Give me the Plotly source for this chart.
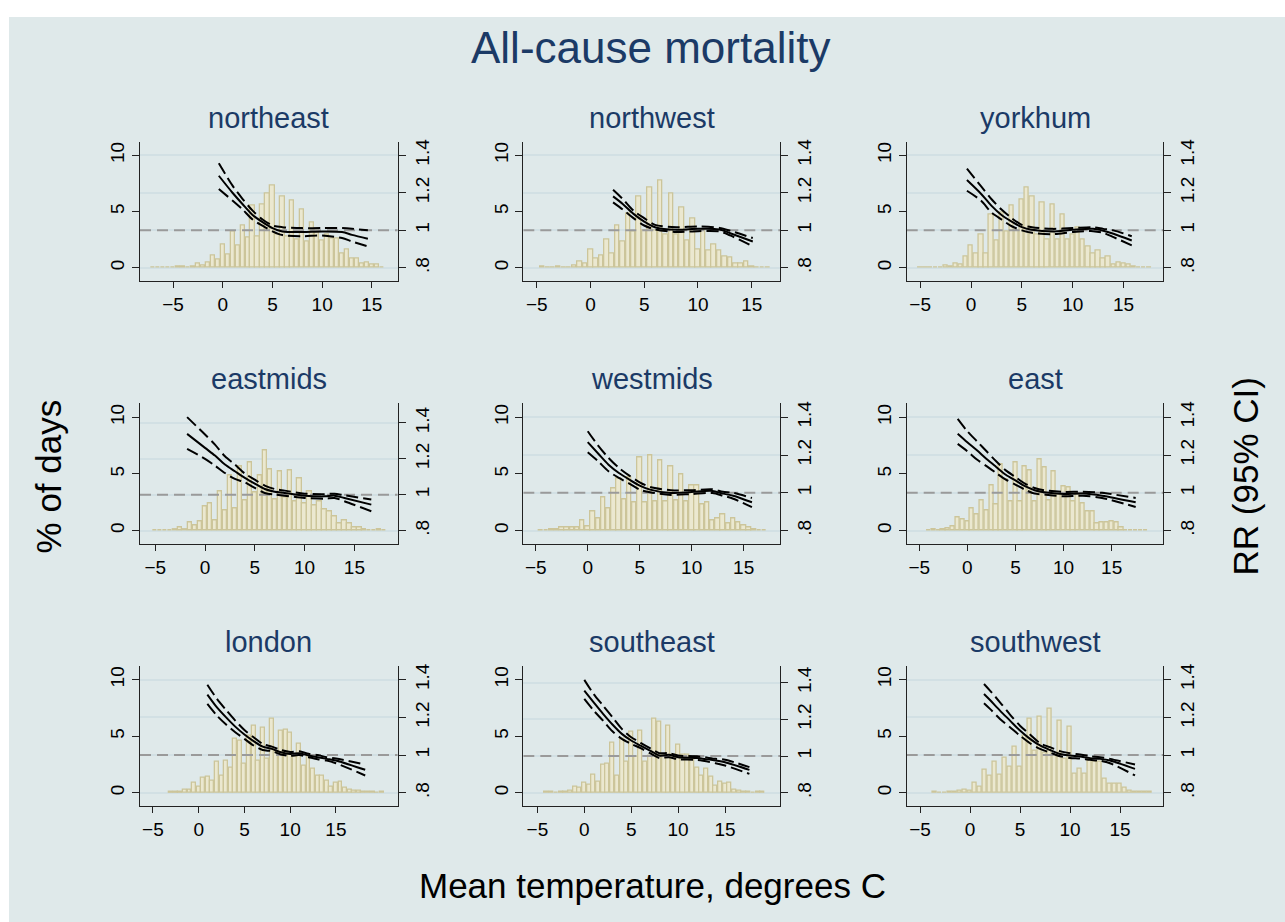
import plotly.graph_objects as go

W, H = 1285, 922

regions = ["northeast", "northwest", "yorkhum", "eastmids", "westmids",
           "east", "london", "southeast", "southwest"]

# ---------------- histogram data: % of days, 0.5 degC bins ----------------
bin_width = 0.5
bin_first = {"northeast": -7.0, "northwest": -4.5, "yorkhum": -5.0,
             "eastmids": -5.0, "westmids": -4.5, "east": -4.0,
             "london": -3.0, "southeast": -4.0, "southwest": -3.5}

pct_northeast = [0.05, 0.05, 0.05, 0.05, 0.05, 0.12, 0.12, 0.05, 0.1, 0.4, 0.2, 0.5,
                 1.1, 0.7, 2.1, 1.2, 3.2, 2.0, 3.8, 2.7, 5.5, 2.8, 5.6, 6.6, 7.3, 3.0,
                 6.3, 2.8, 6.0, 2.5, 5.2, 2.3, 4.0, 3.5, 2.4, 3.0, 2.6, 2.6, 1.3, 1.6,
                 0.8, 0.8, 0.4, 0.5, 0.3, 0.3, 0.05]
pct_northwest = [0.1, 0.0, 0.0, 0.1, 0.05, 0.05, 0.2, 0.6, 0.4, 1.6, 0.8, 1.1, 2.5,
                 1.3, 3.8, 2.3, 4.8, 3.2, 6.3, 3.3, 7.1, 3.3, 7.8, 3.0, 6.6, 3.0, 5.4,
                 2.4, 4.4, 1.6, 3.3, 1.5, 2.1, 1.5, 1.0, 0.9, 0.4, 0.4, 0.6, 0.15, 0.05,
                 0.0, 0.05]
pct_yorkhum = [0.02, 0.02, 0.02, 0.05, 0.05, 0.2, 0.15, 0.35, 0.3, 1.0, 2.0, 1.3, 3.0,
               1.3, 4.7, 2.4, 4.9, 3.2, 5.5, 3.3, 6.1, 7.1, 6.3, 3.0, 5.8, 2.5, 5.6,
               2.5, 4.7, 2.5, 3.0, 3.6, 2.5, 1.9, 1.3, 1.5, 0.8, 1.0, 0.3, 0.5, 0.4,
               0.3, 0.1, 0.05, 0.02, 0.02]
pct_eastmids = [0.05, 0.05, 0.02, 0.05, 0.1, 0.3, 0.15, 0.7, 0.5, 0.8, 2.1, 2.4, 0.9,
                3.5, 1.8, 4.9, 2.0, 5.7, 2.7, 6.0, 3.4, 4.9, 7.1, 5.4, 2.8, 5.2, 2.9,
                5.3, 2.6, 4.6, 2.4, 3.5, 2.2, 2.6, 1.9, 1.7, 1.3, 0.6, 0.9, 0.6, 0.3,
                0.25, 0.1, 0.05, 0.05, 0.1, 0.05]
pct_westmids = [0.05, 0.05, 0.15, 0.15, 0.25, 0.3, 0.3, 0.3, 0.9, 0.4, 1.7, 1.1, 2.9,
                2.0, 3.7, 4.6, 2.8, 4.7, 2.5, 6.5, 2.5, 6.6, 2.6, 6.2, 2.6, 5.7, 2.7,
                5.0, 2.6, 4.0, 4.0, 2.3, 2.5, 0.9, 1.1, 1.4, 0.6, 1.1, 0.7, 0.5, 0.3,
                0.15, 0.05, 0.05]
pct_east = [0.05, 0.1, 0.05, 0.1, 0.2, 0.4, 1.2, 1.0, 0.8, 2.0, 1.4, 2.7, 1.8, 4.0,
            2.3, 5.8, 4.5, 2.6, 6.0, 2.6, 5.7, 5.3, 2.6, 6.3, 5.6, 2.7, 5.2, 3.2, 3.9,
            3.8, 2.6, 3.3, 2.4, 1.7, 1.7, 0.6, 0.7, 0.75, 0.8, 0.7, 0.3, 0.0, 0.05,
            0.05, 0.05, 0.05]
pct_london = [0.1, 0.1, 0.1, 0.3, 0.25, 0.9, 0.5, 1.3, 1.4, 1.1, 2.7, 1.5, 2.8, 2.2,
              4.8, 4.6, 2.6, 5.0, 5.9, 2.8, 5.7, 3.0, 6.5, 3.6, 5.5, 5.6, 5.3, 3.2,
              4.3, 2.4, 3.3, 2.1, 1.5, 1.5, 1.1, 0.5, 0.9, 1.0, 0.4, 0.3, 0.2, 0.2,
              0.1, 0.05, 0.05, 0.0, 0.05]
pct_southeast = [0.05, 0.05, 0.0, 0.1, 0.1, 0.2, 0.5, 0.4, 0.9, 0.7, 1.6, 1.0, 2.5,
                 2.6, 4.4, 1.5, 4.8, 2.7, 5.4, 3.2, 5.5, 2.7, 3.3, 6.5, 6.3, 3.3, 5.9,
                 3.4, 4.2, 3.4, 3.4, 3.0, 2.2, 1.5, 2.1, 1.4, 0.6, 1.0, 0.8, 0.9, 0.3,
                 0.2, 0.1, 0.05, 0.0, 0.05, 0.05]
pct_southwest = [0.12, 0.0, 0.0, 0.05, 0.1, 0.15, 0.3, 0.2, 0.9, 0.5, 2.0, 1.5, 2.7,
                 1.6, 3.1, 2.3, 4.1, 2.3, 5.0, 6.5, 3.7, 6.7, 3.5, 7.4, 3.3, 6.4, 3.0,
                 5.8, 1.7, 2.1, 1.7, 3.0, 2.7, 2.7, 1.2, 0.8, 0.8, 0.8, 0.4, 0.2, 0.05,
                 0.05, 0.05, 0.05]

hist_pct = {"northeast": pct_northeast, "northwest": pct_northwest,
            "yorkhum": pct_yorkhum, "eastmids": pct_eastmids,
            "westmids": pct_westmids, "east": pct_east, "london": pct_london,
            "southeast": pct_southeast, "southwest": pct_southwest}

# ---------------- relative risk curves (RR and 95% CI) ----------------
temp_northeast = [-0.4, 1, 2, 3, 4, 5, 6, 8, 10, 12, 13, 14.6]
rr_northeast = [1.291, 1.199, 1.139, 1.082, 1.044, 1.012, 0.994, 0.991, 0.994, 0.991, 0.976, 0.955]
hi_northeast = [1.357, 1.237, 1.167, 1.105, 1.058, 1.026, 1.017, 1.012, 1.012, 1.012, 1.009, 1.0]
lo_northeast = [1.22, 1.158, 1.111, 1.058, 1.025, 0.995, 0.975, 0.969, 0.973, 0.959, 0.941, 0.915]

temp_northwest = [2.1, 3, 4, 5, 6, 8, 10, 12, 13, 15.1]
rr_northwest = [1.181, 1.141, 1.088, 1.047, 1.017, 1.003, 1.008, 1.005, 0.985, 0.941]
hi_northwest = [1.216, 1.167, 1.105, 1.065, 1.029, 1.017, 1.021, 1.013, 0.998, 0.959]
lo_northwest = [1.149, 1.111, 1.065, 1.026, 1.005, 0.991, 0.996, 0.994, 0.973, 0.915]

temp_yorkhum = [-0.4, 1, 2, 3, 4, 5, 6, 8, 10, 12, 13, 14, 15.8]
rr_yorkhum = [1.268, 1.194, 1.132, 1.082, 1.047, 1.017, 1.003, 0.994, 1.003, 1.008, 0.998, 0.982, 0.946]
hi_yorkhum = [1.329, 1.234, 1.167, 1.111, 1.065, 1.029, 1.017, 1.008, 1.012, 1.017, 1.008, 1.0, 0.969]
lo_yorkhum = [1.211, 1.158, 1.096, 1.058, 1.022, 1.0, 0.987, 0.98, 0.991, 0.996, 0.987, 0.964, 0.92]

temp_eastmids = [-1.8, 0, 1, 2, 3, 4, 5, 6, 7, 8, 10, 12, 13, 14, 16.7]
rr_eastmids = [1.339, 1.261, 1.218, 1.168, 1.131, 1.094, 1.062, 1.032, 1.017, 1.01, 0.995, 0.991, 0.995, 0.982, 0.945]
hi_eastmids = [1.432, 1.335, 1.279, 1.214, 1.168, 1.118, 1.084, 1.051, 1.032, 1.023, 1.006, 1.003, 1.006, 0.997, 0.973]
lo_eastmids = [1.255, 1.2, 1.162, 1.121, 1.088, 1.069, 1.038, 1.01, 1.001, 0.995, 0.982, 0.978, 0.982, 0.964, 0.908]

temp_westmids = [0, 1, 2, 3, 4, 5, 6, 8, 10, 12, 13, 14, 15.8]
rr_westmids = [1.268, 1.208, 1.149, 1.105, 1.07, 1.038, 1.017, 0.999, 1.005, 1.01, 0.996, 0.985, 0.95]
hi_westmids = [1.326, 1.25, 1.185, 1.132, 1.091, 1.056, 1.031, 1.014, 1.014, 1.019, 1.006, 1.0, 0.973]
lo_westmids = [1.215, 1.167, 1.114, 1.079, 1.049, 1.017, 1.003, 0.989, 0.994, 0.999, 0.985, 0.969, 0.924]

temp_east = [-1.0, 0, 1, 2, 3, 4, 5, 6, 7, 8, 10, 12, 14, 17.5]
rr_east = [1.313, 1.268, 1.225, 1.179, 1.137, 1.096, 1.066, 1.035, 1.014, 1.003, 0.994, 0.996, 0.985, 0.95]
hi_east = [1.391, 1.326, 1.273, 1.22, 1.167, 1.119, 1.084, 1.049, 1.026, 1.014, 1.005, 1.006, 1.0, 0.973]
lo_east = [1.259, 1.22, 1.176, 1.141, 1.105, 1.07, 1.044, 1.017, 0.996, 0.991, 0.982, 0.985, 0.973, 0.925]

temp_london = [0.95, 2, 3, 4, 5, 6, 7, 8, 9, 10, 11, 12, 13, 14, 15, 18.2]
rr_london = [1.321, 1.253, 1.2, 1.151, 1.109, 1.074, 1.045, 1.033, 1.015, 1.006, 1.01, 0.998, 0.989, 0.98, 0.971, 0.922]
hi_london = [1.373, 1.298, 1.239, 1.183, 1.133, 1.095, 1.059, 1.045, 1.027, 1.017, 1.02, 1.007, 1.0, 0.989, 0.982, 0.95]
lo_london = [1.271, 1.209, 1.162, 1.121, 1.086, 1.051, 1.027, 1.021, 1.003, 0.996, 1.0, 0.989, 0.978, 0.971, 0.957, 0.892]

temp_southeast = [0, 1, 2, 3, 4, 5, 6, 7, 8, 9, 10, 12, 14, 15, 17.6]
rr_southeast = [1.357, 1.293, 1.23, 1.172, 1.121, 1.085, 1.057, 1.03, 1.003, 1.007, 0.994, 0.99, 0.976, 0.967, 0.925]
hi_southeast = [1.415, 1.338, 1.275, 1.212, 1.148, 1.103, 1.072, 1.043, 1.016, 1.016, 1.003, 0.999, 0.985, 0.98, 0.94]
lo_southeast = [1.311, 1.248, 1.193, 1.135, 1.094, 1.067, 1.043, 1.016, 0.99, 0.994, 0.983, 0.979, 0.961, 0.949, 0.903]

temp_southwest = [1.4, 2, 3, 4, 5, 6, 7, 8, 9, 10, 11, 12, 13, 14, 16.5]
rr_southwest = [1.324, 1.292, 1.236, 1.183, 1.13, 1.086, 1.051, 1.027, 1.006, 0.998, 0.992, 0.984, 0.98, 0.971, 0.927]
hi_southwest = [1.377, 1.342, 1.28, 1.215, 1.156, 1.109, 1.063, 1.042, 1.021, 1.01, 1.003, 0.994, 0.989, 0.98, 0.95]
lo_southwest = [1.275, 1.245, 1.192, 1.148, 1.103, 1.063, 1.033, 1.014, 0.994, 0.985, 0.982, 0.975, 0.97, 0.957, 0.892]

curves = {
    "northeast": (temp_northeast, rr_northeast, lo_northeast, hi_northeast),
    "northwest": (temp_northwest, rr_northwest, lo_northwest, hi_northwest),
    "yorkhum": (temp_yorkhum, rr_yorkhum, lo_yorkhum, hi_yorkhum),
    "eastmids": (temp_eastmids, rr_eastmids, lo_eastmids, hi_eastmids),
    "westmids": (temp_westmids, rr_westmids, lo_westmids, hi_westmids),
    "east": (temp_east, rr_east, lo_east, hi_east),
    "london": (temp_london, rr_london, lo_london, hi_london),
    "southeast": (temp_southeast, rr_southeast, lo_southeast, hi_southeast),
    "southwest": (temp_southwest, rr_southwest, lo_southwest, hi_southwest),
}

x_ticks = [-5, 0, 5, 10, 15]
pct_ticks = [0, 5, 10]
rr_ticks = [0.8, 1.0, 1.2, 1.4]
rr_ticktext = [".8", "1", "1.2", "1.4"]

# ---------------- layout (axis ranges and geometry) ----------------
x_range = {"northeast": [-8.33, 17.6], "northwest": [-6.25, 17.63],
           "yorkhum": [-6.32, 18.9], "eastmids": [-6.53, 19.35],
           "westmids": [-6.2, 18.5], "east": [-6.3, 20.37],
           "london": [-6.41, 21.75], "southeast": [-6.5, 20.86],
           "southwest": [-6.33, 19.33]}
pct_range = [-1.17, 11.22]
rr_range = {r: [0.7298, 1.4732] for r in regions}
rr_range["eastmids"] = [0.7261, 1.5086]
rr_range["southeast"] = [0.7279, 1.4915]

col_px = [(140, 397.7), (523.3, 780), (906.7, 1163.3)]
row_px = [(139, 279), (401.7, 542.7), (665, 805.7)]

FONT = "Liberation Sans, Arial, Helvetica, sans-serif"
BG = "#dfe9ea"
GRID = "#d2e0e4"
NAVY = "#1b3a66"
BAR_FILL = "#ebe8d0"
BAR_EDGE = "#ccc59a"
AXC = "#222222"

fig = go.Figure()
layout = dict(
    width=W, height=H, margin=dict(l=0, r=0, t=0, b=0),
    paper_bgcolor="white", plot_bgcolor="white", showlegend=False,
    font=dict(family=FONT, color="black", size=19),
)
annotations = []
shapes = [dict(type="rect", xref="paper", yref="paper", x0=9 / W, x1=1,
               y0=0, y1=1 - 14 / H, fillcolor=BG, line=dict(width=0),
               layer="below")]

for k, reg in enumerate(regions):
    r, c = divmod(k, 3)
    xn = k + 1
    yl = 2 * k + 1
    yr = 2 * k + 2
    xs = "x" if xn == 1 else f"x{xn}"
    yls = "y" if yl == 1 else f"y{yl}"
    yrs = f"y{yr}"
    xd = [col_px[c][0] / W, col_px[c][1] / W]
    yd = [1 - row_px[r][1] / H, 1 - row_px[r][0] / H]

    heights = hist_pct[reg]
    centers = [bin_first[reg] + bin_width * i for i in range(len(heights))]
    fig.add_trace(go.Bar(x=centers, y=heights, width=bin_width * 0.86,
                         marker=dict(color=BAR_FILL,
                                     line=dict(color=BAR_EDGE, width=1.3)),
                         xaxis=xs, yaxis=yls, hoverinfo="skip"))
    # reference line RR = 1
    fig.add_trace(go.Scatter(x=x_range[reg], y=[1, 1], mode="lines",
                             line=dict(color="#9a9a9a", width=2, dash="11px,6px"),
                             xaxis=xs, yaxis=yrs, hoverinfo="skip"))
    t, est, lo, hi = curves[reg]
    for yy, dash in ((hi, "12px,5px"), (lo, "12px,5px"), (est, "solid")):
        fig.add_trace(go.Scatter(x=t, y=yy, mode="lines",
                                 line=dict(color="black", width=2, dash=dash,
                                           shape="spline", smoothing=0.8),
                                 xaxis=xs, yaxis=yrs, hoverinfo="skip"))

    xkey = "xaxis" if xn == 1 else f"xaxis{xn}"
    ylkey = "yaxis" if yl == 1 else f"yaxis{yl}"
    yrkey = f"yaxis{yr}"
    layout[xkey] = dict(domain=xd, range=x_range[reg], anchor=yls,
                        tickvals=x_ticks, ticks="outside", ticklen=6,
                        tickcolor=AXC, showline=True, linecolor=AXC,
                        linewidth=1.2, showgrid=False, zeroline=False,
                        tickfont=dict(size=19))
    layout[ylkey] = dict(domain=yd, range=pct_range, anchor=xs,
                         tickvals=pct_ticks, tickangle=-90, ticks="outside",
                         ticklen=7, tickcolor=AXC, showline=True,
                         linecolor=AXC, linewidth=1.2, showgrid=False,
                         zeroline=False, tickfont=dict(size=19))
    layout[yrkey] = dict(domain=yd, range=rr_range[reg], anchor=xs,
                         overlaying=yls, side="right", tickvals=rr_ticks,
                         ticktext=rr_ticktext, tickangle=-90, ticks="outside",
                         ticklen=7, tickcolor=AXC, showline=True,
                         linecolor=AXC, linewidth=1.2, showgrid=True,
                         gridcolor=GRID, gridwidth=2, zeroline=False,
                         tickfont=dict(size=19))
    annotations.append(dict(text=reg, xref="paper", yref="paper",
                            x=(col_px[c][0] + col_px[c][1]) / 2 / W,
                            y=1 - (row_px[r][0] - 24) / H,
                            xanchor="center", yanchor="middle",
                            showarrow=False,
                            font=dict(size=29, color=NAVY, family=FONT)))

annotations += [
    dict(text="All-cause mortality", xref="paper", yref="paper",
         x=650 / W, y=1 - 45 / H, showarrow=False, xanchor="center",
         yanchor="middle", font=dict(size=44, color=NAVY, family=FONT)),
    dict(text="Mean temperature, degrees C", xref="paper", yref="paper",
         x=652 / W, y=1 - 885 / H, showarrow=False, xanchor="center",
         yanchor="middle", font=dict(size=35, color="black", family=FONT)),
    dict(text="% of days", xref="paper", yref="paper", x=48 / W,
         y=1 - 475 / H, showarrow=False, textangle=-90, xanchor="center",
         yanchor="middle", font=dict(size=35, color="black", family=FONT)),
    dict(text="RR (95% CI)", xref="paper", yref="paper", x=1245 / W,
         y=1 - 475 / H, showarrow=False, textangle=-90, xanchor="center",
         yanchor="middle", font=dict(size=35, color="black", family=FONT)),
]
layout["annotations"] = annotations
layout["shapes"] = shapes
layout["bargap"] = 0
fig.update_layout(**layout)

fig.write_html("out.html", config={"displayModeBar": False},
               post_script="document.body.style.margin='0';")
